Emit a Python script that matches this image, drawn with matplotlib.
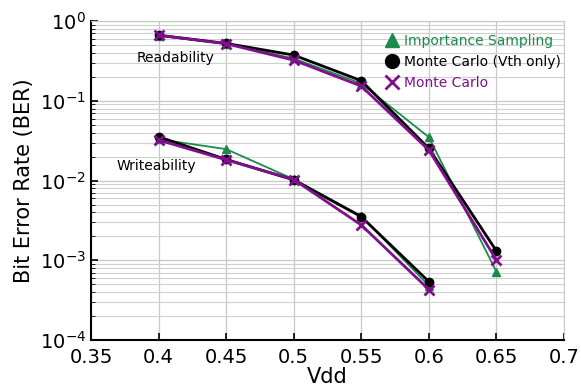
import numpy as np
import matplotlib
matplotlib.use('Agg')
import matplotlib.pyplot as plt
from matplotlib.ticker import LogLocator, NullFormatter

vdd_read = [0.4, 0.45, 0.5, 0.55, 0.6, 0.65]
vdd_write = [0.4, 0.45, 0.5, 0.55, 0.6]

# readability
is_read = [0.66, 0.52, 0.34, 0.165, 0.035, 0.00072]
mcvth_read = [0.665, 0.525, 0.375, 0.179, 0.0253, 0.00131]
mc_read = [0.665, 0.52, 0.324, 0.153, 0.0241, 0.00101]

# writeability
is_write = [0.033, 0.0248, 0.0104, 0.0036, 0.00048]
mcvth_write = [0.0354, 0.0184, 0.0102, 0.00352, 0.00054]
mc_write = [0.0322, 0.0182, 0.0103, 0.00277, 0.00043]

green = '#1c8a4c'
purple = '#7f0f8a'

fig = plt.figure(figsize=(5.81, 3.91), dpi=100)
ax = fig.add_axes([0.1566, 0.1304, 0.9707 - 0.1566, 0.946 - 0.1304])

ax.plot(vdd_read, is_read, color=green, lw=1.3, marker='^', ms=6, label='Importance Sampling')
ax.plot(vdd_read, mcvth_read, color='black', lw=2, marker='o', ms=6, label='Monte Carlo (Vth only)')
ax.plot(vdd_read, mc_read, color=purple, lw=2, marker='x', ms=7, mew=2, label='Monte Carlo')

ax.plot(vdd_write, is_write, color=green, lw=1.3, marker='^', ms=6)
ax.plot(vdd_write, mcvth_write, color='black', lw=2, marker='o', ms=6)
ax.plot(vdd_write, mc_write, color=purple, lw=2, marker='x', ms=7, mew=2)

ax.set_yscale('log')
ax.set_xlim(0.35, 0.7)
ax.set_ylim(1e-4, 1)
ax.set_xticks([0.35, 0.4, 0.45, 0.5, 0.55, 0.6, 0.65, 0.7])
ax.set_xticklabels(['0.35', '0.4', '0.45', '0.5', '0.55', '0.6', '0.65', '0.7'])
ax.yaxis.set_minor_locator(LogLocator(base=10, subs=np.arange(2, 10)))
ax.yaxis.set_minor_formatter(NullFormatter())

ax.grid(True, which='major', color='#c8c8c8', lw=0.9)
ax.grid(True, which='minor', axis='y', color='#d0d0d0', lw=0.8)
ax.set_axisbelow(True)

ax.tick_params(which='both', direction='in', labelsize=14, top=False, right=False)
ax.tick_params(which='major', length=5, width=1.2)
ax.tick_params(which='minor', length=3)
ax.tick_params(axis='x', pad=6)
for s in ['top', 'right']:
    ax.spines[s].set_color('#c8c8c8')
for s in ['left', 'bottom']:
    ax.spines[s].set_linewidth(1.5)

ax.set_xlabel('Vdd', fontsize=15, labelpad=0)
ax.set_ylabel('Bit Error Rate (BER)', fontsize=15)

ax.text(0.384, 0.343, 'Readability', fontsize=10, va='center')
ax.text(0.369, 0.0152, 'Writeability', fontsize=10, va='center')

leg = ax.legend(loc='upper right', bbox_to_anchor=(1.02, 1.0), frameon=False, fontsize=10,
                handlelength=0.9, handletextpad=0.45, labelspacing=0.5)
for t, c in zip(leg.get_texts(), [green, 'black', purple]):
    t.set_color(c)
for h in leg.legend_handles:
    h.set_linestyle('none')
    h.set_markersize(10)

fig.savefig('out.png', dpi=100)
